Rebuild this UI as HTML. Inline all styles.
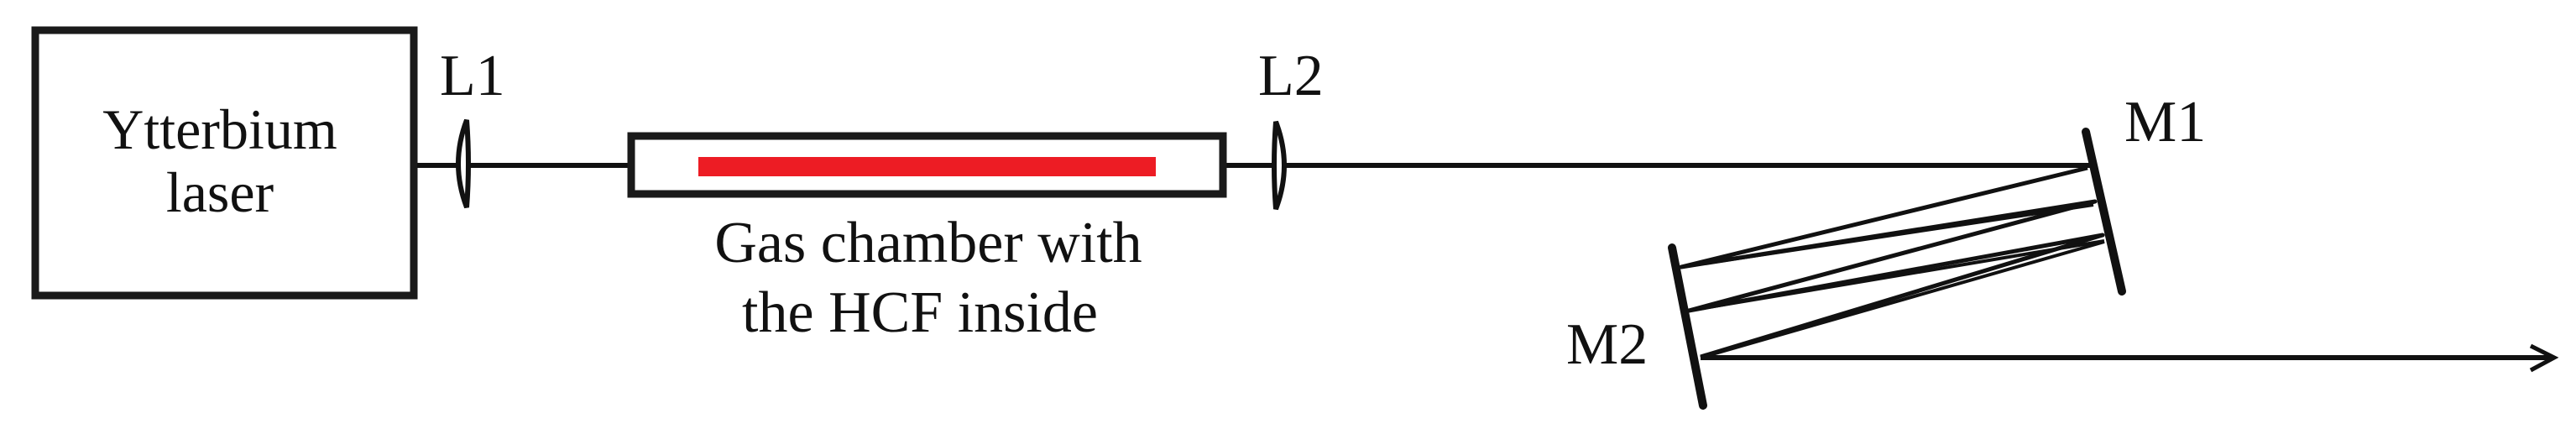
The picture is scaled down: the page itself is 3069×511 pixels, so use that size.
<!DOCTYPE html>
<html><head><style>
html,body{margin:0;padding:0;background:#fff;}
svg{display:block;}
text{font-family:"Liberation Serif",serif;fill:#111;}
</style></head><body>
<svg width="3069" height="511" viewBox="0 0 3069 511" xmlns="http://www.w3.org/2000/svg">
<rect x="42" y="36" width="451" height="316" fill="none" stroke="#1a1a1a" stroke-width="9"/>
<text x="262" y="177" font-size="68" text-anchor="middle">Ytterbium</text>
<text x="262" y="252" font-size="68" text-anchor="middle">laser</text>
<line x1="497" y1="197" x2="748" y2="197" stroke="#111" stroke-width="6"/>
<line x1="1461" y1="197" x2="2490" y2="197" stroke="#111" stroke-width="6"/>
<path d="M556,143 Q536,195 556,247 Q560,195 556,143 Z" fill="#fff" stroke="#111" stroke-width="6"/>
<text x="524" y="113" font-size="70">L1</text>
<rect x="752" y="162" width="705" height="69" fill="#fff" stroke="#1a1a1a" stroke-width="9"/>
<rect x="832" y="187" width="545" height="23" fill="#ed1c24"/>
<text x="1106" y="312" font-size="70" text-anchor="middle">Gas chamber with</text>
<text x="1096" y="395" font-size="70" text-anchor="middle">the HCF inside</text>
<path d="M1520,145 Q1540,197 1520,249 Q1516,197 1520,145 Z" fill="#fff" stroke="#111" stroke-width="6"/>
<text x="1499" y="113" font-size="70">L2</text>
<line x1="2485" y1="157" x2="2528" y2="347" stroke="#111" stroke-width="10" stroke-linecap="round"/>
<line x1="1992" y1="295" x2="2029" y2="483" stroke="#111" stroke-width="10" stroke-linecap="round"/>
<text x="2531" y="168" font-size="70">M1</text>
<text x="1866" y="433" font-size="70">M2</text>
<polyline points="2487,200 2003,318 2496,240 2012,370 2505,280 2026,425" fill="none" stroke="#111" stroke-width="5" stroke-linejoin="round"/>
<line x1="2003" y1="318" x2="2494" y2="244" stroke="#111" stroke-width="4"/>
<line x1="2012" y1="370" x2="2507" y2="287" stroke="#111" stroke-width="4"/>
<line x1="2026" y1="426" x2="2507" y2="288" stroke="#111" stroke-width="4"/>
<line x1="2026" y1="426" x2="3042" y2="426" stroke="#111" stroke-width="6"/>
<polyline points="3015,412 3043,426 3015,441" fill="none" stroke="#111" stroke-width="5"/>
</svg>
</body></html>
